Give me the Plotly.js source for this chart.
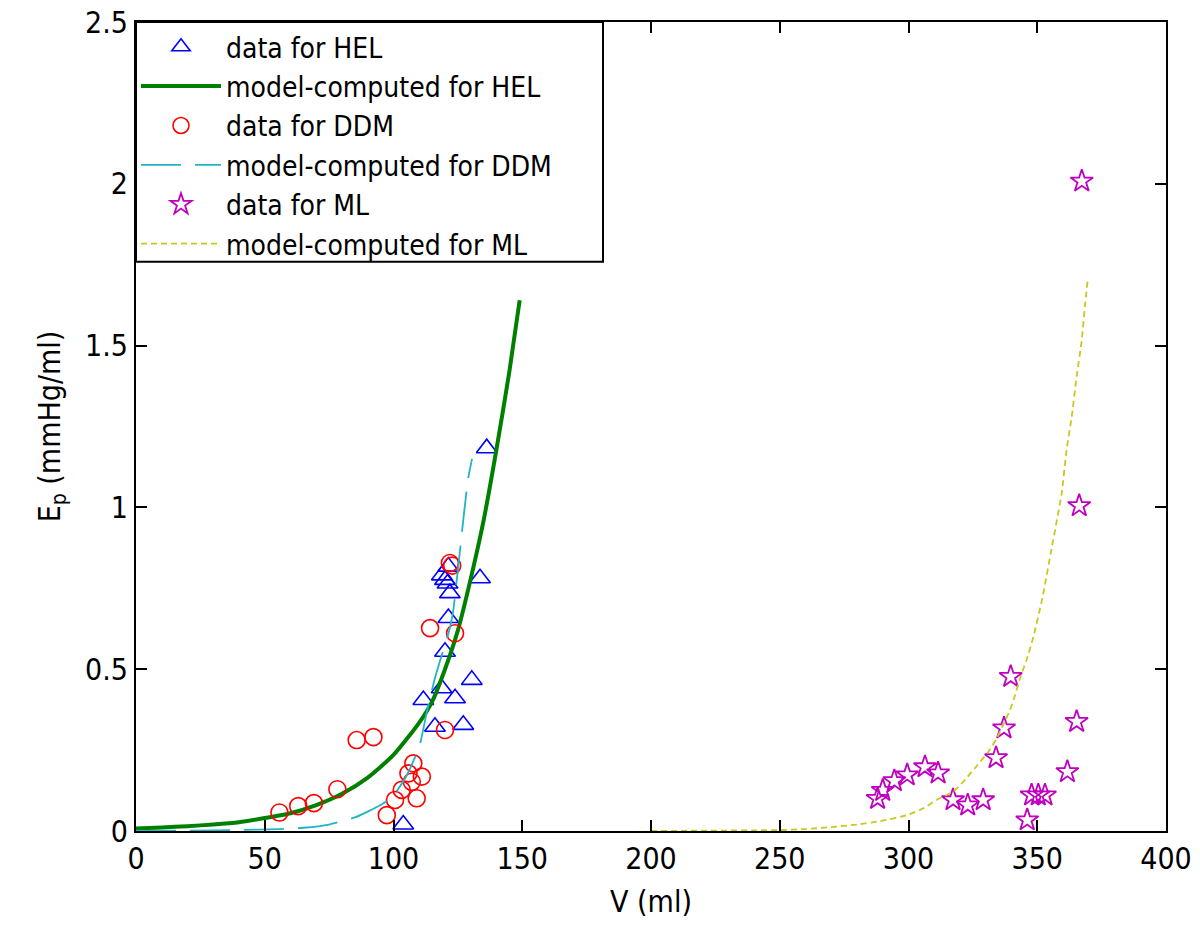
<!DOCTYPE html>
<html>
<head>
<meta charset="utf-8">
<script src="https://cdn.plot.ly/plotly-3.0.1.min.js"></script>
<style>html,body{margin:0;padding:0;background:#fff;}#chart{width:1200px;height:925px;}</style>
</head>
<body>
<div id="chart"></div>
<script>
// ---- data ----
const helDataV  = [121.3, 118.8, 120.0, 121.0, 121.9, 133.6, 121.3, 120.0, 130.4, 111.6, 118.7, 123.9, 116.1, 127.1, 103.8, 136.2];
const helDataEp = [0.817, 0.790, 0.776, 0.765, 0.735, 0.781, 0.658, 0.554, 0.467, 0.405, 0.441, 0.410, 0.322, 0.328, 0.020, 1.183];

const helModelV  = [0, 10, 20, 30, 40, 50, 60, 70, 80, 90, 100, 110, 115, 120, 125, 130, 135, 140, 145, 149];
const helModelEp = [0.008, 0.011, 0.015, 0.020, 0.027, 0.040, 0.055, 0.080, 0.115, 0.165, 0.235, 0.335, 0.400, 0.500, 0.620, 0.780, 0.960, 1.180, 1.420, 1.640];

const ddmDataV  = [121.9, 122.8, 114.2, 123.9, 120.0, 85.7, 92.2, 78.2, 69.1, 63.0, 55.7, 107.7, 111.0, 107.1, 109.0, 103.2, 100.6, 97.4, 105.8];
const ddmDataEp = [0.828, 0.820, 0.627, 0.611, 0.312, 0.281, 0.290, 0.129, 0.086, 0.077, 0.057, 0.209, 0.168, 0.152, 0.101, 0.127, 0.096, 0.049, 0.178];

const ddmModelV  = [0, 20, 40, 55, 65, 75, 85, 90, 95, 100, 105, 110, 113, 116, 119, 121, 123, 124.5, 126, 127.5, 129, 130.5];
const ddmModelEp = [0.0, 0.001, 0.003, 0.006, 0.010, 0.020, 0.042, 0.060, 0.080, 0.110, 0.170, 0.260, 0.370, 0.470, 0.550, 0.600, 0.670, 0.770, 0.880, 0.990, 1.090, 1.150];

const mlDataV  = [288.0, 290.0, 294.5, 299.5, 306.4, 311.5, 317.3, 323.0, 329.0, 334.0, 337.1, 339.7, 346.1, 347.8, 350.4, 353.0, 361.7, 365.3, 366.3, 367.3];
const mlDataEp = [0.100, 0.125, 0.155, 0.173, 0.198, 0.179, 0.096, 0.080, 0.096, 0.226, 0.318, 0.477, 0.034, 0.111, 0.111, 0.111, 0.183, 0.338, 1.005, 2.008];

const mlModelV  = [200, 220, 240, 250, 260, 270, 280, 290, 299.3, 305.7, 310.9, 317.4, 321.9, 326.5, 331.0, 334.3, 336.8, 339.4, 341.4, 343.3, 345.9, 348.5, 352.0, 355.6, 359.5, 361.4, 363.4, 365.3, 367.3, 368.5, 369.6];
const mlModelEp = [0.000, 0.001, 0.002, 0.003, 0.006, 0.012, 0.020, 0.032, 0.049, 0.070, 0.096, 0.122, 0.158, 0.201, 0.245, 0.287, 0.328, 0.374, 0.420, 0.472, 0.530, 0.600, 0.720, 0.874, 1.044, 1.178, 1.281, 1.405, 1.518, 1.621, 1.704];

const seriesNames = ['data for HEL', 'model-computed for HEL', 'data for DDM', 'model-computed for DDM', 'data for ML', 'model-computed for ML'];
const xTicks = [0, 50, 100, 150, 200, 250, 300, 350, 400];
const yTicks = [0, 0.5, 1, 1.5, 2, 2.5];
const yTickText = ['0', '0.5', '1', '1.5', '2', '2.5'];

const FONT = '"DejaVu Sans Condensed", "Liberation Sans Narrow", "DejaVu Sans", sans-serif';

const traces = [
  {x: helDataV, y: helDataEp, name: seriesNames[0], type: 'scatter', mode: 'markers',
   marker: {symbol: 'triangle-up-open', size: 18, color: '#0000ff', line: {width: 1.6, color: '#0000ff'}}},
  {x: helModelV, y: helModelEp, name: seriesNames[1], type: 'scatter', mode: 'lines',
   line: {color: '#008000', width: 4, shape: 'spline', smoothing: 0.6}},
  {x: ddmDataV, y: ddmDataEp, name: seriesNames[2], type: 'scatter', mode: 'markers',
   marker: {symbol: 'circle-open', size: 17, color: '#ff0000', line: {width: 1.6, color: '#ff0000'}}},
  {x: ddmModelV, y: ddmModelEp, name: seriesNames[3], type: 'scatter', mode: 'lines',
   line: {color: '#20b4c4', width: 1.8, dash: '40px,14px', shape: 'spline', smoothing: 0.5}},
  {x: mlDataV, y: mlDataEp, name: seriesNames[4], type: 'scatter', mode: 'markers',
   marker: {symbol: 'star-open', size: 17, color: '#c000c0', line: {width: 1.8, color: '#c000c0'}}},
  {x: mlModelV, y: mlModelEp, name: seriesNames[5], type: 'scatter', mode: 'lines',
   line: {color: '#c8c81e', width: 1.8, dash: '6px,4px', shape: 'spline', smoothing: 0.5}}
];

const axisCommon = {
  showline: true, linecolor: '#000', linewidth: 2, mirror: 'ticks',
  ticks: 'inside', ticklen: 11, tickwidth: 2, tickcolor: '#000',
  showgrid: false, zeroline: false,
  tickfont: {family: FONT, size: 30, color: '#000'}
};

const layout = {
  width: 1200, height: 925,
  paper_bgcolor: '#fff', plot_bgcolor: '#fff',
  margin: {l: 136, r: 34, t: 22, b: 94},
  font: {family: FONT, size: 30, color: '#000'},
  xaxis: Object.assign({}, axisCommon, {
    range: [0, 400], tickvals: xTicks, ticktext: xTicks.map(String),
    title: {text: 'V (ml)', font: {family: FONT, size: 30, color: '#000'}, standoff: 16}
  }),
  yaxis: Object.assign({}, axisCommon, {
    range: [0, 2.5], tickvals: yTicks, ticktext: yTickText,
    title: {text: 'E<sub>p</sub> (mmHg/ml)', font: {family: FONT, size: 30, color: '#000'}, standoff: 16}
  }),
  // legend frame (wider than the auto-sized legend, as in the original figure)
  shapes: [{
    type: 'rect', xref: 'paper', yref: 'paper', layer: 'above',
    x0: 0, x1: 0.4534, y0: 0.7038, y1: 1,
    fillcolor: '#ffffff', line: {color: '#000', width: 2}
  }],
  showlegend: true,
  legend: {
    x: 0, y: 1, xanchor: 'left', yanchor: 'top',
    bgcolor: 'rgba(0,0,0,0)', borderwidth: 0,
    font: {family: FONT, size: 28, color: '#000'},
    itemwidth: 80, tracegroupgap: 0
  }
};

Plotly.newPlot('chart', traces, layout, {displayModeBar: false, staticPlot: true});
</script>
</body>
</html>
